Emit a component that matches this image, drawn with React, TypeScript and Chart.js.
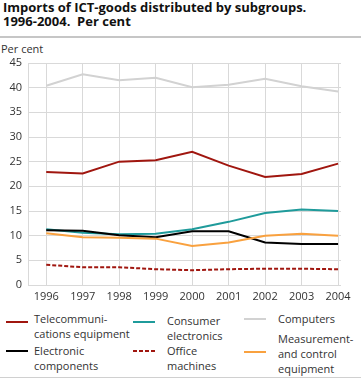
import React, { useEffect, useRef } from "react";
import { Chart, registerables } from "chart.js";

Chart.register(...registerables);

const years = [1996, 1997, 1998, 1999, 2000, 2001, 2002, 2003, 2004];
const yTicks = [0, 5, 10, 15, 20, 25, 30, 35, 40, 45];

const telecom = [22.9, 22.6, 25.0, 25.3, 27.0, 24.2, 21.9, 22.5, 24.6];
const consumer = [11.3, 10.6, 10.3, 10.4, 11.3, 12.8, 14.6, 15.3, 15.0];
const computers = [40.4, 42.7, 41.5, 42.0, 40.1, 40.6, 41.8, 40.3, 39.2];
const electronic = [11.1, 11.0, 10.1, 9.7, 10.9, 10.9, 8.6, 8.3, 8.3];
const office = [4.1, 3.6, 3.6, 3.2, 3.0, 3.2, 3.3, 3.3, 3.2];
const measurement = [10.5, 9.7, 9.6, 9.4, 7.9, 8.6, 10.0, 10.4, 10.0];

const titleLines = ["Imports of ICT-goods distributed by subgroups.", "1996-2004.  Per cent"];
const yUnit = "Per cent";

const RED = "#a0160f";
const TEAL = "#1f9b9b";
const GRAY = "#d2d2d2";
const BLACK = "#000000";
const ORANGE = "#f9a13f";

const FONT = "'Open Sans', 'Noto Sans', sans-serif";

type Series = { name: string[]; data: number[]; color: string; dash: number[] };

const series: Series[] = [
  { name: ["Computers"], data: computers, color: GRAY, dash: [] },
  { name: ["Measurement-", "and control", "equipment"], data: measurement, color: ORANGE, dash: [] },
  { name: ["Office", "machines"], data: office, color: RED, dash: [4, 2] },
  { name: ["Electronic", "components"], data: electronic, color: BLACK, dash: [] },
  { name: ["Consumer", "electronics"], data: consumer, color: TEAL, dash: [] },
  { name: ["Telecommuni-", "cations equipment"], data: telecom, color: RED, dash: [] },
];

// legend placement (layout only)
const legendPlaces: Record<string, { sx: number; sy: number; tx: number; ty: number }> = {
  "Telecommuni-": { sx: 6, sy: 322, tx: 34, ty: 311 },
  Consumer: { sx: 133, sy: 322, tx: 167, ty: 313 },
  Computers: { sx: 244, sy: 319, tx: 278, ty: 311 },
  Electronic: { sx: 6, sy: 351, tx: 34, ty: 343 },
  Office: { sx: 133, sy: 351, tx: 167, ty: 343 },
  "Measurement-": { sx: 244, sy: 352, tx: 278, ty: 331 },
};

function LegendSample({ color, dash }: { color: string; dash: number[] }) {
  const ref = useRef<HTMLCanvasElement>(null);
  useEffect(() => {
    const c = ref.current;
    if (!c) return;
    const ctx = c.getContext("2d");
    if (!ctx) return;
    ctx.clearRect(0, 0, 22, 4);
    ctx.strokeStyle = color;
    ctx.lineWidth = 2;
    ctx.setLineDash(dash);
    ctx.beginPath();
    ctx.moveTo(0, 2);
    ctx.lineTo(22, 2);
    ctx.stroke();
  }, [color, dash]);
  return <canvas ref={ref} width={22} height={4} style={{ display: "block" }} />;
}

export default function App() {
  const canvasRef = useRef<HTMLCanvasElement>(null);

  useEffect(() => {
    const canvas = canvasRef.current;
    if (!canvas) return;
    const chart = new Chart(canvas, {
      type: "line",
      data: {
        datasets: series.map((s) => ({
          label: s.name.join(" "),
          data: years.map((yr, i) => ({ x: yr, y: s.data[i] })),
          borderColor: s.color,
          backgroundColor: s.color,
          borderDash: s.dash,
          borderWidth: 2,
          pointRadius: 0,
          tension: 0,
          fill: false,
        })),
      },
      options: {
        animation: false,
        responsive: false,
        events: [],
        layout: { padding: { top: 63, right: 20, left: 0, bottom: 0 } },
        plugins: { legend: { display: false }, title: { display: false }, tooltip: { enabled: false } },
        scales: {
          x: {
            type: "linear",
            min: 1995.5,
            max: 2004.08,
            afterBuildTicks: (scale: any) => {
              scale.ticks = years.map((v) => ({ value: v }));
            },
            afterFit: (scale: any) => {
              scale.height = 20;
            },
            grid: { color: "#d9d9d9", lineWidth: 1, drawTicks: false },
            border: { display: false },
            ticks: {
              padding: 5,
              color: "#333333",
              font: { family: FONT, size: 11 },
              maxRotation: 0,
              autoSkip: false,
              callback: (v: any) => String(v),
            },
          },
          y: {
            min: 0,
            max: 45,
            afterBuildTicks: (scale: any) => {
              scale.ticks = yTicks.map((v) => ({ value: v }));
            },
            afterFit: (scale: any) => {
              scale.width = 28;
            },
            grid: { color: "#d9d9d9", lineWidth: 1, drawTicks: false },
            border: { display: true, color: "#d9d9d9", width: 1 },
            ticks: {
              padding: 6,
              color: "#333333",
              font: { family: FONT, size: 11 },
              callback: (v: any) => String(v),
            },
          },
        },
      },
    });
    return () => chart.destroy();
  }, []);

  return (
    <div
      style={{
        position: "fixed",
        left: 0,
        top: 0,
        width: 361,
        height: 379,
        background: "#ffffff",
        fontFamily: FONT,
        color: "#222222",
        overflow: "hidden",
      }}
    >
      <div
        style={{
          position: "absolute",
          left: 3,
          top: 0,
          fontWeight: 700,
          fontSize: 13,
          lineHeight: "14px",
          color: "#111111",
          whiteSpace: "nowrap",
        }}
      >
        {titleLines.map((l, i) => (
          <div key={i} style={{ whiteSpace: "pre" }}>{l}</div>
        ))}
      </div>
      <div style={{ position: "absolute", left: 0, top: 36, width: 361, height: 2, background: "#c6c6c6" }} />
      <div style={{ position: "absolute", left: 1, top: 41, fontSize: 11, lineHeight: "15px", color: "#333333" }}>{yUnit}</div>
      <canvas ref={canvasRef} width={361} height={305} style={{ position: "absolute", left: 0, top: 0, width: 361, height: 305 }} />
      {series.map((s) => {
        const p = legendPlaces[s.name[0]];
        return (
          <React.Fragment key={s.name[0]}>
            <div style={{ position: "absolute", left: p.sx, top: p.sy - 2 }}>
              <LegendSample color={s.color} dash={s.dash} />
            </div>
            <div
              style={{
                position: "absolute",
                left: p.tx,
                top: p.ty,
                fontSize: 11,
                lineHeight: "15px",
                color: "#333333",
                whiteSpace: "nowrap",
              }}
            >
              {s.name.map((l, i) => (
                <div key={i}>{l}</div>
              ))}
            </div>
          </React.Fragment>
        );
      })}
      <div style={{ position: "absolute", left: 0, top: 377, width: 361, height: 1, background: "#d0d0d0" }} />
    </div>
  );
}
